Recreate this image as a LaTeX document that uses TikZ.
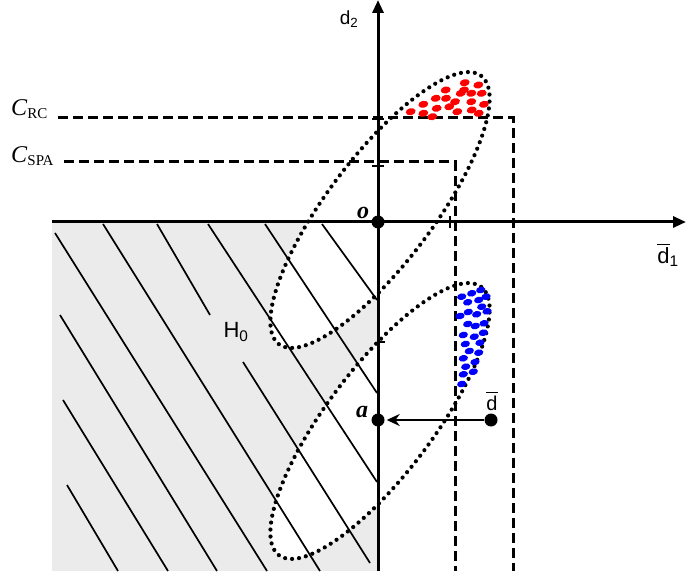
\documentclass[tikz,border=0pt]{standalone}
\usepackage{amsmath}
\usepackage{fontspec}
\setmainfont{Liberation Serif}
\setsansfont{Liberation Sans}
\usetikzlibrary{
    arrows.meta,
    positioning,
    calc
}

\begin{document}
\begin{tikzpicture}[
        x=1pt, y=1pt,
        axis/.style={
            line width=3pt,
            -{Triangle[length=13pt,width=11pt]}
        },
        level/.style={
            line width=3pt,
            dash pattern=on 10pt off 5pt
        },
        hatch/.style={line width=1.7pt},
        region/.style={
            line width=4.2pt,
            dash pattern=on 0pt off 7pt,
            line cap=round
        },
        dot/.style={
            circle,
            fill,
            inner sep=0pt,
            minimum size=13pt
        },
        tick/.style={line width=1.5pt},
        sflabel/.style={font=\sffamily\fontsize{19}{22}\selectfont, inner sep=0pt},
        rmlabel/.style={font=\fontsize{24}{28}\selectfont, inner sep=0pt}
    ]

    \useasboundingbox (0,0) rectangle (698,571);

    % shaded half plane
    \fill[black!8] (52,0) rectangle (378,349);
    \fill[white, rotate around={53:(380,361)}] (380,361) ellipse [x radius=168, y radius=53];
    \fill[white, rotate around={53:(380,150)}] (380,150) ellipse [x radius=168, y radius=53];

    \foreach \xa/\ya/\xb/\yb in {67/86/118/0, 63/171/168/0, 60/256/217/0, 55/338/267/0,
        103/347/320/0, 157/347/210/256, 243/209/370/8, 208/347/377/89,
        265/347/377/178, 322/347/377/271}
        \draw[hatch] (\xa,\ya) -- (\xb,\yb);

    \draw[region, rotate around={53:(380,361)}] (380,361) ellipse [x radius=168, y radius=53];
    \draw[region, rotate around={53:(380,150)}] (380,150) ellipse [x radius=168, y radius=53];

    % thresholds
    \node[rmlabel, anchor=base west] (crc) at (11,455)
        {\textit{C}\raisebox{-3pt}{\fontsize{15}{15}\selectfont RC}};
    \node[rmlabel, anchor=base west] (cspa) at (11,408)
        {\textit{C}\raisebox{-3pt}{\fontsize{15}{15}\selectfont SPA}};

    \coordinate (rcL) at (58,453);
    \coordinate (rcC) at (513,453);
    \coordinate (rcB) at (513,0);
    \coordinate (spaL) at (64,409);
    \coordinate (spaC) at (455,409);
    \coordinate (spaB) at (455,0);
    \draw[level] (rcL) -- (rcC) -- (rcB);
    \draw[level] (spaL) -- (spaC) -- (spaB);

    % axes
    \coordinate (xstart) at (52,349);
    \coordinate (xend) at (686,349);
    \coordinate (ystart) at (378,0);
    \coordinate (yend) at (378,571);
    \draw[axis] (xstart) -- (xend);
    \draw[axis] (ystart) -- (yend);

    \draw[tick] (372,452) -- (384,452);
    \draw[tick] (372,405) -- (384,405);
    \draw[tick] (378,229) -- (385,229);
    \draw[tick] (450,343) -- (450,355);

    % samples
    \foreach \x/\y in {410.7/111.7, 423.3/104.3, 423.3/113.3, 432.3/116.7, 436.7/108.3,
        435.7/98.3, 445.7/90, 446/98.3, 449.3/106.7, 455/101.7, 457.3/111.7,
        460.7/93.3, 464/90, 464.7/82.7, 471.3/93.3, 471.3/101.7, 471.7/110,
        478.3/85, 481.7/93.3, 484/104.3, 478.7/113.3}
        \fill[red, rotate around={12:(\x,571-\y)}] (\x,571-\y) ellipse [x radius=5, y radius=3.5];

    \foreach \x/\y in {461.7/296.7, 471.7/293.3, 480.7/290, 467.7/302.3, 478.7/300,
        486/296.7, 481.7/306.7, 460/316, 468.3/312, 476.7/314.3, 487/311.3,
        467.7/324, 475.3/326, 484/323.3, 463.3/335, 474.3/336.7, 483.3/332.7,
        465.3/344, 480/342.7, 469.3/351, 478.7/352.7, 463.3/358.3, 475/362,
        465.7/366.7, 463.3/374.3, 473.3/371.7, 461.7/384}
        \fill[blue, rotate around={12:(\x,571-\y)}] (\x,571-\y) ellipse [x radius=4.7, y radius=3.3];

    % points
    \node[dot] (o) at (378,349) {};
    \node[dot] (a) at (378,151) {};
    \node[dot] (dbar) at (491,151) {};
    \draw[line width=2.5pt, -{Stealth[length=13pt,width=12pt]}, shorten >=2pt] (dbar) -- (a);

    \node[rmlabel, left=2pt of o, yshift=9pt] (olabel) {\textbf{\textit{o}}};
    \node[rmlabel, left=3pt of a, yshift=8pt] (alabel) {\textbf{\textit{a}}};
    \node[sflabel, font=\sffamily\fontsize{20}{23}\selectfont] (dlabel) at (492,170) {$\overline{\text{d}}$};
    \node[sflabel] (d2) at (349,552) {d$_{\text{2}}$};
    \node[sflabel, font=\sffamily\fontsize{22}{25}\selectfont] (d1) at (668,316) {$\overline{\text{d}}_{\text{1}}$};
    \node[sflabel, font=\sffamily\fontsize{22}{25}\selectfont] (h0) at (236,239) {H$_{\text{0}}$};

\end{tikzpicture}
\end{document}
